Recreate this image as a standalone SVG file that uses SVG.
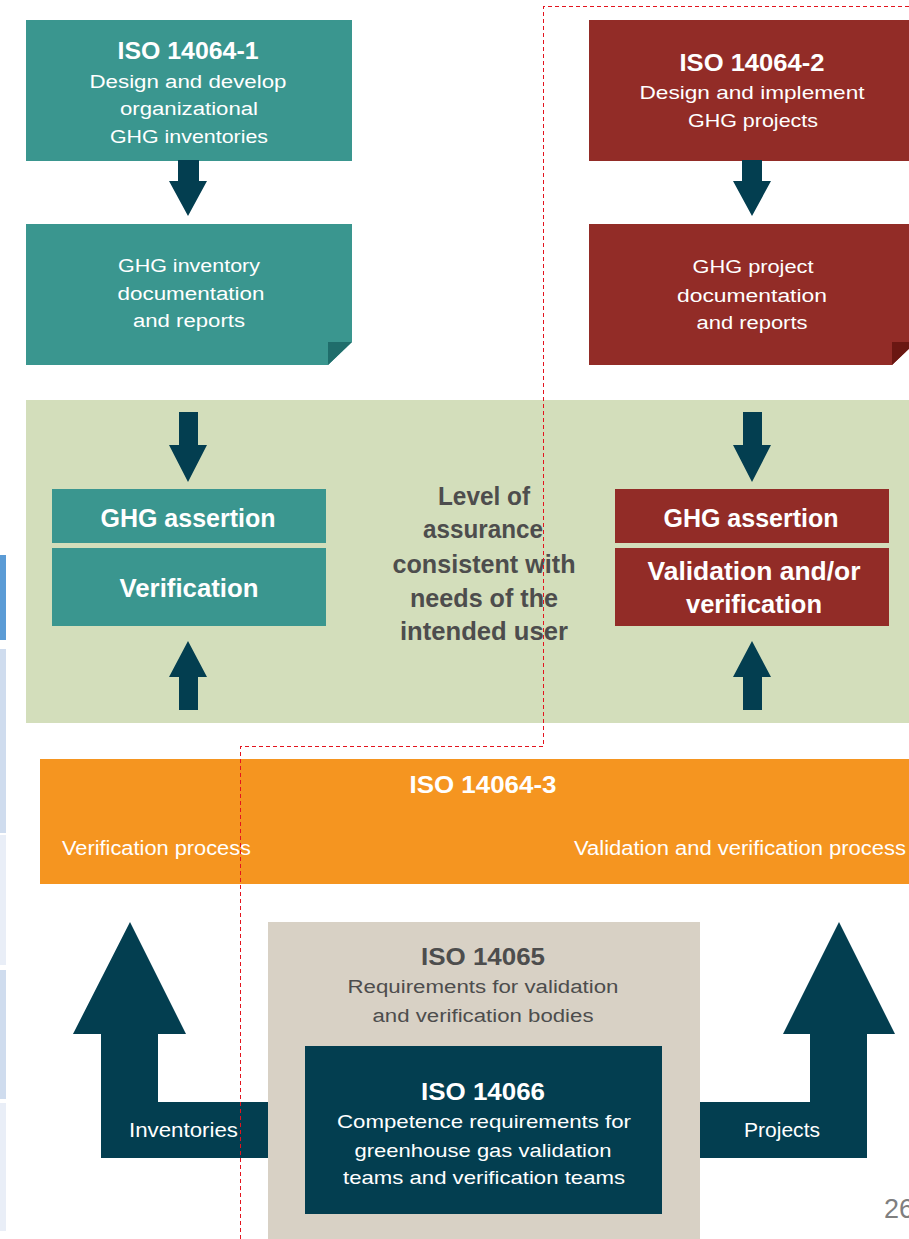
<svg xmlns="http://www.w3.org/2000/svg" width="909" height="1239" viewBox="0 0 909 1239">
  <style>
    text { font-family: "Liberation Sans", Arial, sans-serif; }
    .w { fill: #ffffff; }
    .g { fill: #4d4d4d; }
    .c { text-anchor: middle; }
    .b { font-weight: bold; }
    .teal { fill: #3a968f; }
    .teal-fold { fill: #1f6d6b; }
    .red { fill: #922c27; }
    .red-fold { fill: #6a1712; }
    .navy { fill: #033e50; }
  </style>

  <rect width="909" height="1239" fill="#ffffff"/>

  <!-- slide table edge on the left -->
  <g id="side-strip">
    <rect x="0" y="555" width="6" height="85" fill="#5b9bd5"/>
    <rect x="0" y="649" width="6" height="184" fill="#cfdcee"/>
    <rect x="0" y="835" width="6" height="130" fill="#e9eef7"/>
    <rect x="0" y="970" width="6" height="129" fill="#cfdcee"/>
    <rect x="0" y="1103" width="6" height="128" fill="#e9eef7"/>
  </g>

  <!-- background bands -->
  <g id="assurance-band">
    <rect x="26" y="400" width="890" height="323" fill="#d3debb"/>
    <text class="g c b" font-size="26" x="484" y="505" textLength="92" lengthAdjust="spacingAndGlyphs">Level of</text>
    <text class="g c b" font-size="26" x="483" y="538" textLength="120" lengthAdjust="spacingAndGlyphs">assurance</text>
    <text class="g c b" font-size="26" x="484" y="573" textLength="183" lengthAdjust="spacingAndGlyphs">consistent with</text>
    <text class="g c b" font-size="26" x="484" y="607" textLength="148" lengthAdjust="spacingAndGlyphs">needs of the</text>
    <text class="g c b" font-size="26" x="484" y="640" textLength="168" lengthAdjust="spacingAndGlyphs">intended user</text>
  </g>

  <!-- ISO 14064-1 column -->
  <g id="iso-14064-1">
    <rect class="teal" x="26" y="20" width="326" height="141"/>
    <text class="w c b" font-size="24" x="188" y="59" textLength="141" lengthAdjust="spacingAndGlyphs">ISO 14064-1</text>
    <text class="w c" font-size="18" x="188" y="88" textLength="197" lengthAdjust="spacingAndGlyphs">Design and develop</text>
    <text class="w c" font-size="18" x="189" y="115" textLength="138" lengthAdjust="spacingAndGlyphs">organizational</text>
    <text class="w c" font-size="18" x="189" y="143" textLength="158" lengthAdjust="spacingAndGlyphs">GHG inventories</text>
  </g>

  <g id="inventory-docs">
    <polygon class="teal" points="26,224 352,224 352,342 328,365 26,365"/>
    <polygon class="teal-fold" points="328,342 352,342 328,365"/>
    <text class="w c" font-size="18" x="189" y="272" textLength="142" lengthAdjust="spacingAndGlyphs">GHG inventory</text>
    <text class="w c" font-size="18" x="191" y="300" textLength="147" lengthAdjust="spacingAndGlyphs">documentation</text>
    <text class="w c" font-size="18" x="189" y="327" textLength="112" lengthAdjust="spacingAndGlyphs">and reports</text>
  </g>

  <g id="inventory-assertion">
    <rect class="teal" x="52" y="489" width="274" height="54"/>
    <text class="w c b" font-size="25" x="188" y="527" textLength="175" lengthAdjust="spacingAndGlyphs">GHG assertion</text>
  </g>

  <g id="inventory-verification">
    <rect class="teal" x="52" y="548" width="274" height="78"/>
    <text class="w c b" font-size="25" x="189" y="597" textLength="139" lengthAdjust="spacingAndGlyphs">Verification</text>
  </g>

  <!-- ISO 14064-2 column -->
  <g id="iso-14064-2">
    <rect class="red" x="589" y="20" width="327" height="141"/>
    <text class="w c b" font-size="24" x="752" y="71" textLength="145" lengthAdjust="spacingAndGlyphs">ISO 14064-2</text>
    <text class="w c" font-size="19" x="752" y="99" textLength="225" lengthAdjust="spacingAndGlyphs">Design and implement</text>
    <text class="w c" font-size="19" x="753" y="127" textLength="130" lengthAdjust="spacingAndGlyphs">GHG projects</text>
  </g>

  <g id="project-docs">
    <polygon class="red" points="589,224 916,224 916,342 892,365 589,365"/>
    <polygon class="red-fold" points="892,342 916,342 892,365"/>
    <text class="w c" font-size="18" x="753" y="273" textLength="121" lengthAdjust="spacingAndGlyphs">GHG project</text>
    <text class="w c" font-size="18" x="752" y="302" textLength="150" lengthAdjust="spacingAndGlyphs">documentation</text>
    <text class="w c" font-size="18" x="752" y="329" textLength="111" lengthAdjust="spacingAndGlyphs">and reports</text>
  </g>

  <g id="project-assertion">
    <rect class="red" x="615" y="489" width="274" height="54"/>
    <text class="w c b" font-size="25" x="751" y="527" textLength="175" lengthAdjust="spacingAndGlyphs">GHG assertion</text>
  </g>

  <g id="project-validation">
    <rect class="red" x="615" y="548" width="274" height="78"/>
    <text class="w c b" font-size="25" x="754" y="580" textLength="213" lengthAdjust="spacingAndGlyphs">Validation and/or</text>
    <text class="w c b" font-size="25" x="754" y="613" textLength="136" lengthAdjust="spacingAndGlyphs">verification</text>
  </g>

  <!-- ISO 14064-3 bar -->
  <g id="iso-14064-3">
    <rect x="40" y="759" width="876" height="125" fill="#f59520"/>
    <text class="w c b" font-size="23" x="483" y="793" textLength="147" lengthAdjust="spacingAndGlyphs">ISO 14064-3</text>
    <text class="w" font-size="20" x="62" y="855" textLength="189" lengthAdjust="spacingAndGlyphs">Verification process</text>
    <text class="w" font-size="20" x="574" y="855" textLength="332" lengthAdjust="spacingAndGlyphs">Validation and verification process</text>
  </g>

  <!-- ISO 14065 / 14066 -->
  <g id="iso-14065">
    <rect x="268" y="922" width="432" height="320" fill="#d8d1c5"/>
    <text class="g c b" font-size="24" x="483" y="965" textLength="124" lengthAdjust="spacingAndGlyphs">ISO 14065</text>
    <text class="g c" font-size="18" x="483" y="993" textLength="271" lengthAdjust="spacingAndGlyphs">Requirements for validation</text>
    <text class="g c" font-size="18" x="483" y="1022" textLength="221" lengthAdjust="spacingAndGlyphs">and verification bodies</text>
  </g>

  <g id="iso-14066">
    <rect class="navy" x="305" y="1046" width="357" height="168"/>
    <text class="w c b" font-size="24" x="483" y="1100" textLength="124" lengthAdjust="spacingAndGlyphs">ISO 14066</text>
    <text class="w c" font-size="19" x="484" y="1128" textLength="294" lengthAdjust="spacingAndGlyphs">Competence requirements for</text>
    <text class="w c" font-size="19" x="483" y="1157" textLength="257" lengthAdjust="spacingAndGlyphs">greenhouse gas validation</text>
    <text class="w c" font-size="19" x="484" y="1184" textLength="282" lengthAdjust="spacingAndGlyphs">teams and verification teams</text>
  </g>

  <!-- arrows -->
  <g id="connectors" class="navy">
    <polygon points="178,160 199,160 199,181 207,181 188,216 169,181 178,181"/>
    <polygon points="742,160 762,160 762,181 771,181 752,216 733,181 742,181"/>
    <polygon points="179,412 198,412 198,445 207,445 188,482 169,445 179,445"/>
    <polygon points="743,412 762,412 762,445 771,445 752,482 733,445 743,445"/>
    <polygon points="188,641 207,677 198,677 198,710 179,710 179,677 169,677"/>
    <polygon points="752,641 771,677 762,677 762,710 743,710 743,677 733,677"/>
    <g id="inventories-arrow">
      <polygon points="130,922 186,1034 158,1034 158,1102 268,1102 268,1158 101,1158 101,1034 73,1034"/>
      <text class="w" font-size="20" x="129" y="1137" textLength="109" lengthAdjust="spacingAndGlyphs">Inventories</text>
    </g>
    <g id="projects-arrow">
      <polygon points="839,922 895,1034 867,1034 867,1158 700,1158 700,1102 810,1102 810,1034 783,1034"/>
      <text class="w" font-size="20" x="744" y="1137" textLength="76" lengthAdjust="spacingAndGlyphs">Projects</text>
    </g>
  </g>

  <!-- dashed outline drawn over the figure -->
  <path d="M916,6.5 H543.5 V746.5 H240.5 V1239" fill="none" stroke="#e3141e" stroke-width="1" stroke-dasharray="4 3" shape-rendering="crispEdges"/>

  <text x="884" y="1218" font-size="27" fill="#7f7f7f">26</text>
</svg>
